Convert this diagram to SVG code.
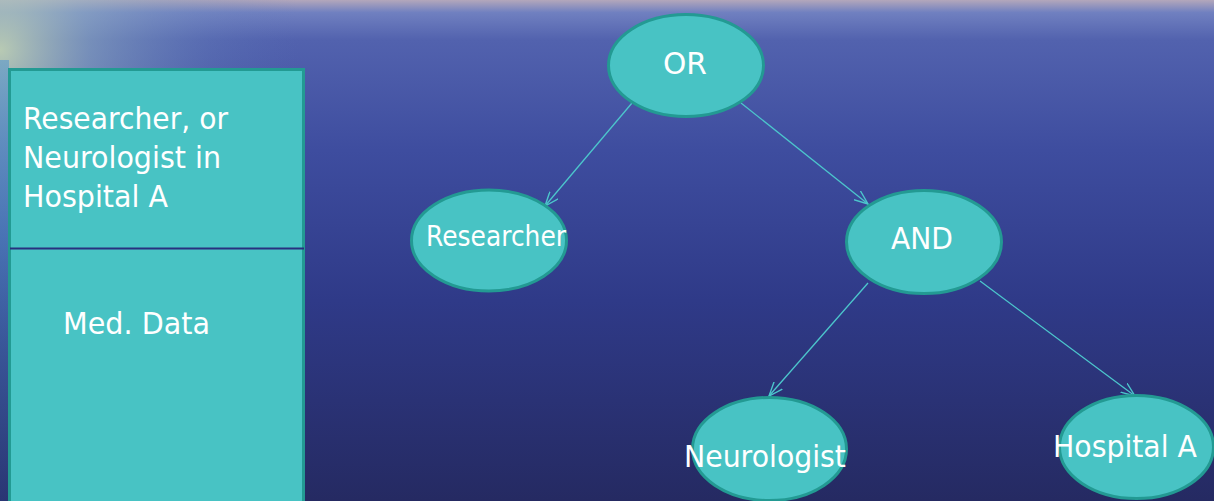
<svg xmlns="http://www.w3.org/2000/svg" width="1214" height="501" viewBox="0 0 1214 501">
  <defs>
    <linearGradient id="sea" x1="0" y1="0" x2="0" y2="1">
      <stop offset="0" stop-color="#b3a7bb"/>
      <stop offset="0.025" stop-color="#7080c0"/>
      <stop offset="0.08" stop-color="#5262ae"/>
      <stop offset="0.3" stop-color="#3e4d9f"/>
      <stop offset="0.6" stop-color="#2f3a88"/>
      <stop offset="1" stop-color="#252a62"/>
    </linearGradient>
    <radialGradient id="glow" cx="0" cy="50" r="300" gradientUnits="userSpaceOnUse">
      <stop offset="0" stop-color="#c4d6b4" stop-opacity="0.9"/>
      <stop offset="0.3" stop-color="#94b4c4" stop-opacity="0.55"/>
      <stop offset="0.7" stop-color="#6f90c0" stop-opacity="0.2"/>
      <stop offset="1" stop-color="#5a78b8" stop-opacity="0"/>
    </radialGradient>
    <linearGradient id="leftEdge" x1="0" y1="0" x2="0" y2="1">
      <stop offset="0" stop-color="#6aa0c8"/>
      <stop offset="0.4" stop-color="#4a7cbc"/>
      <stop offset="1" stop-color="#2c3a7a"/>
    </linearGradient>
    <marker id="arr" viewBox="0 0 15 12" refX="14" refY="6" markerWidth="15" markerHeight="12" markerUnits="userSpaceOnUse" orient="auto">
      <path d="M0,0.5 L14,6 L0,11.5" fill="none" stroke="#4cc6cc" stroke-width="1.4"/>
    </marker>
    <style>
      .node { fill: #48c3c4; stroke: #239a93; stroke-width: 3; }
      .lbl { font-family: "DejaVu Sans", "Verdana", sans-serif; fill: #ffffff; }
      .edge { stroke: #4cc6cc; stroke-width: 1.3; fill: none; marker-end: url(#arr); }
    </style>
  </defs>

  <!-- background -->
  <rect x="0" y="0" width="1214" height="501" fill="url(#sea)"/>
  <rect x="0" y="0" width="1214" height="501" fill="url(#glow)"/>
  <rect x="0" y="60" width="9" height="441" fill="url(#leftEdge)" opacity="0.75"/>

  <!-- policy box -->
  <g id="policy-box">
    <rect x="9.5" y="69.5" width="294" height="440" fill="#48c3c4" stroke="#239a93" stroke-width="3"/>
    <line x1="10" y1="248.5" x2="304" y2="248.5" stroke="#28307e" stroke-width="2"/>
    <text class="lbl" x="23" y="129" font-size="30" textLength="205" lengthAdjust="spacingAndGlyphs">Researcher, or</text>
    <text class="lbl" x="23" y="168" font-size="30" textLength="198" lengthAdjust="spacingAndGlyphs">Neurologist in</text>
    <text class="lbl" x="23" y="207" font-size="30" textLength="145" lengthAdjust="spacingAndGlyphs">Hospital A</text>
    <text class="lbl" x="63" y="334" font-size="30" textLength="147" lengthAdjust="spacingAndGlyphs">Med. Data</text>
  </g>

  <!-- connectors -->
  <g id="connectors">
    <line class="edge" x1="632" y1="103" x2="545" y2="206"/>
    <line class="edge" x1="741" y1="103" x2="868" y2="204"/>
    <line class="edge" x1="868" y1="283" x2="769" y2="396"/>
    <line class="edge" x1="980" y1="281" x2="1135" y2="396"/>
  </g>

  <!-- nodes -->
  <g id="node-or">
    <ellipse class="node" cx="686" cy="65.5" rx="77.5" ry="51"/>
    <text class="lbl" x="663" y="74" font-size="30" textLength="44" lengthAdjust="spacingAndGlyphs">OR</text>
  </g>
  <g id="node-researcher">
    <ellipse class="node" cx="489" cy="240.5" rx="77.5" ry="50.5"/>
    <text class="lbl" x="426" y="246" font-size="28" textLength="140" lengthAdjust="spacingAndGlyphs">Researcher</text>
  </g>
  <g id="node-and">
    <ellipse class="node" cx="924" cy="242" rx="77.5" ry="51.5"/>
    <text class="lbl" x="891" y="249" font-size="30" textLength="62" lengthAdjust="spacingAndGlyphs">AND</text>
  </g>
  <g id="node-neurologist">
    <ellipse class="node" cx="769.5" cy="449" rx="77" ry="51.5"/>
    <text class="lbl" x="684" y="467" font-size="31" textLength="162" lengthAdjust="spacingAndGlyphs">Neurologist</text>
  </g>
  <g id="node-hospital">
    <ellipse class="node" cx="1136.5" cy="447" rx="77" ry="51.5"/>
    <text class="lbl" x="1053" y="457" font-size="31" textLength="144" lengthAdjust="spacingAndGlyphs">Hospital A</text>
  </g>
</svg>
